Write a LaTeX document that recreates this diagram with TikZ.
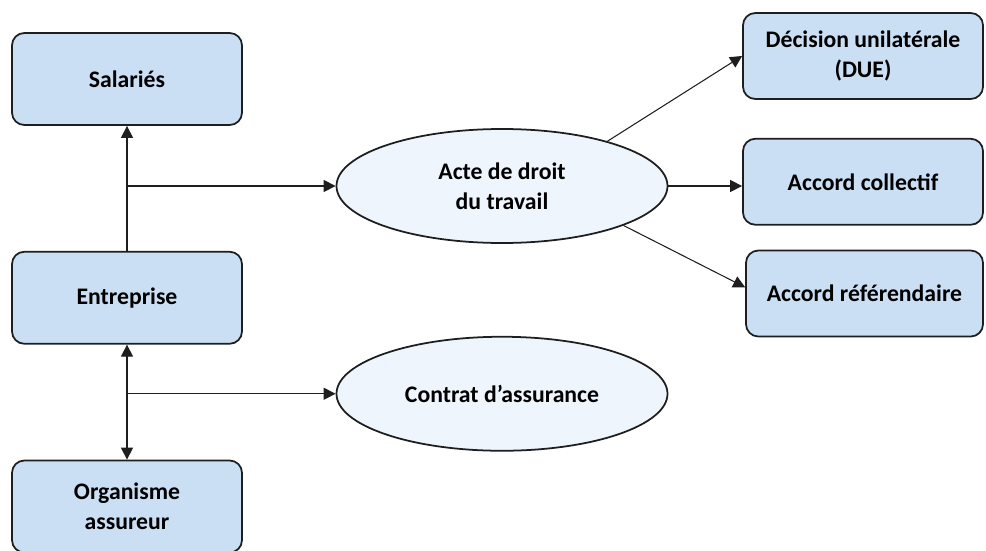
\documentclass[tikz,border=0pt]{standalone}
\usepackage{fontspec}
\setmainfont{Carlito}
\usepackage{tikz}
\usetikzlibrary{arrows.meta,positioning,shapes.geometric}
\definecolor{boxblue}{HTML}{CADFF3}
\definecolor{ovalblue}{HTML}{EEF5FC}
\definecolor{darkline}{HTML}{1E1E1E}
\tikzset{
  leftbox/.style={draw=darkline, fill=boxblue, line width=1pt, rounded corners=7pt, align=center, minimum width=4.6cm, minimum height=1.84cm, inner sep=2pt, font=\bfseries\fontsize{13.5}{17}\selectfont},
  rightbox/.style={leftbox, minimum width=4.8cm, minimum height=1.72cm},
  ovalnode/.style={ellipse, draw=darkline, fill=ovalblue, line width=1pt, align=center, minimum width=6.62cm, minimum height=2.28cm, inner sep=0pt, font=\bfseries\fontsize{13.5}{17}\selectfont},
  link/.style={darkline, line width=0.6pt, -{Triangle[length=6.8pt, width=6.8pt]}},
  duallink/.style={link, {Triangle[length=6.8pt, width=6.8pt]}-{Triangle[length=6.8pt, width=6.8pt]}}
}
\begin{document}
\begin{tikzpicture}
  \useasboundingbox (0,0) rectangle (19.72,-11);
  % left column
  \node[leftbox] (sal) at (2.54,-1.58) {Salariés};
  \node[leftbox, below=2.5cm of sal] (ent) {Entreprise};
  \node[leftbox, below=2.3cm of ent] (org) {Organisme\\assureur};
  % middle column
  \node[ovalnode] (acte) at (10.04,-3.72) {Acte de droit\\du travail};
  \node[ovalnode, below=1.84cm of acte] (contrat) {Contrat d’assurance};
  % right column
  \node[rightbox] (due) at (17.26,-1.12) {Décision unilatérale\\(DUE)};
  \node[rightbox, below=0.76cm of due] (coll) {Accord collectif};
  \node[rightbox, below=0.48cm of coll, minimum width=4.74cm, xshift=0.03cm] (ref) {Accord référendaire};
  \coordinate (j1) at (ent.north |- acte.west);
  \coordinate (j2) at (ent.south |- contrat.west);
  \coordinate (c1) at (coll.west |- acte.east);
  \draw[link] (ent.north) -- (sal.south);
  \draw[link] (j1) -- (acte.west);
  \draw[duallink] (ent.south) -- (org.north);
  \draw[link] (j2) -- (contrat.west);
  \draw[link] (acte.23) -- (due.west);
  \draw[link] (acte.east) -- (c1);
  \draw[link] (acte.-18) -- (ref.177);
\end{tikzpicture}
\end{document}
